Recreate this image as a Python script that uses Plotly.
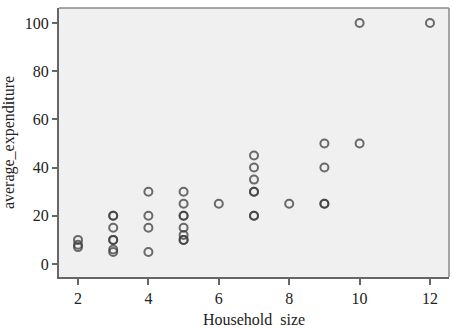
import plotly.graph_objects as go

household_size = [2, 2, 2,
                  3, 3, 3, 3, 3, 3, 3,
                  4, 4, 4, 4,
                  5, 5, 5, 5, 5, 5, 5, 5,
                  6,
                  7, 7, 7, 7, 7, 7, 7,
                  8,
                  9, 9, 9, 9,
                  10, 10,
                  12]
average_expenditure = [10, 8, 7,
                       20, 20, 15, 10, 10, 6, 5,
                       30, 20, 15, 5,
                       30, 25, 20, 20, 15, 12, 10, 10,
                       25,
                       45, 40, 35, 30, 30, 20, 20,
                       25,
                       50, 40, 25, 25,
                       100, 50,
                       100]
x_ticks = [2, 4, 6, 8, 10, 12]
y_ticks = [0, 20, 40, 60, 80, 100]

font = "Liberation Serif, Times New Roman, serif"

fig = go.Figure(go.Scatter(
    x=household_size, y=average_expenditure, mode="markers",
    marker=dict(symbol="circle-open", size=8, color="rgba(60,60,60,0.75)",
                line=dict(width=2, color="rgba(60,60,60,0.75)")),
    showlegend=False,
))

fig.update_layout(
    width=454, height=328,
    margin=dict(l=59, r=5, t=8, b=51),
    paper_bgcolor="white", plot_bgcolor="#f0f0f0",
    font=dict(family=font, size=16, color="#222"),
)
fig.update_xaxes(
    range=[1.46, 12.54], tickvals=x_ticks, showgrid=False, zeroline=False,
    ticks="outside", ticklen=6, tickwidth=2, tickcolor="#666",
    showline=True, linecolor="#666", linewidth=2, mirror=False,
    automargin=False, tickfont=dict(size=16),
    title=dict(text="Household  size", standoff=12, font=dict(size=16)),
)
fig.update_yaxes(
    range=[-5.4, 106.2], tickvals=y_ticks, showgrid=False, zeroline=False,
    ticks="outside", ticklen=5, tickwidth=2, tickcolor="#666",
    showline=True, linecolor="#666", linewidth=2, mirror=False,
    automargin=False, tickfont=dict(size=16),
    title=dict(text="average_expenditure", standoff=6, font=dict(size=16)),
)
fig.add_shape(type="line", xref="paper", yref="paper", x0=0, x1=1, y0=1, y1=1,
              line=dict(color="#888", width=1.5))
fig.add_shape(type="line", xref="paper", yref="paper", x0=1, x1=1, y0=0, y1=1,
              line=dict(color="#888", width=1.5))

fig.write_html("out.html")
